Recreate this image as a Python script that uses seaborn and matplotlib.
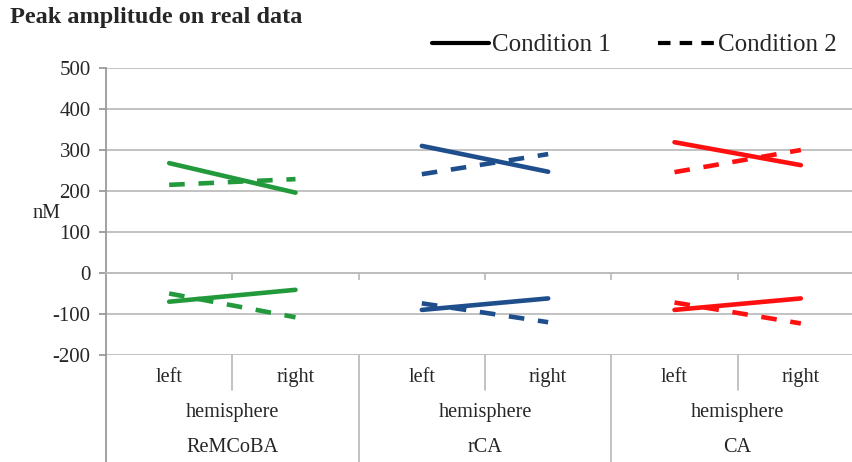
import matplotlib
matplotlib.use("Agg")
import matplotlib.pyplot as plt
import matplotlib.transforms as mtransforms
from matplotlib.lines import Line2D
import seaborn as sns
import pandas as pd

# ---- data ----
regions = ["ReMCoBA", "rCA", "CA"]
hemispheres = ["left", "right"]
conditions = ["Condition 1", "Condition 2"]
# upper (positive) peak, per region: [left, right]
pos_cond1 = {"ReMCoBA": [268, 196], "rCA": [310, 247], "CA": [319, 263]}
pos_cond2 = {"ReMCoBA": [215, 229], "rCA": [241, 290], "CA": [246, 300]}
# lower (negative) peak
neg_cond1 = {"ReMCoBA": [-70, -41], "rCA": [-90, -62], "CA": [-90, -62]}
neg_cond2 = {"ReMCoBA": [-50, -108], "rCA": [-74, -120], "CA": [-72, -123]}
y_ticks = [-200, -100, 0, 100, 200, 300, 400, 500]
colors = {"ReMCoBA": "#229A3C", "rCA": "#1F4E8C", "CA": "#FF1010"}

rows = []
for ri, reg in enumerate(regions):
    for comp, c1, c2 in [("pos", pos_cond1, pos_cond2), ("neg", neg_cond1, neg_cond2)]:
        for cond, src in [("Condition 1", c1), ("Condition 2", c2)]:
            for hi, hemi in enumerate(hemispheres):
                rows.append(dict(region=reg, hemisphere=hemi, condition=cond,
                                 unit=f"{reg}-{comp}-{cond}", x=ri * 2 + hi,
                                 value=src[reg][hi]))
df = pd.DataFrame(rows)

sns.set_theme(style="white")
plt.rcParams["font.family"] = ["Liberation Serif", "DejaVu Serif"]

fig = plt.figure(figsize=(8.53, 4.62), dpi=100)
ax = fig.add_axes([106 / 853, 1 - 355 / 462, 758 / 853, 287 / 462])

grid_c = "#BDBDBD"
for yv in y_ticks:
    ax.axhline(yv, color=grid_c, lw=1.3, zorder=0)

sns.lineplot(data=df, x="x", y="value", hue="region", style="condition",
             units="unit", estimator=None, palette=colors,
             dashes={"Condition 1": "", "Condition 2": (3.4, 3.0)},
             linewidth=3.3, legend=False, ax=ax, zorder=3)

ax.set_xlim(-0.5, 5.5)
ax.set_ylim(-200, 500)
ax.set_yticks(y_ticks)
ax.set_yticklabels([str(v) for v in y_ticks], fontsize=15)
ax.set_xlabel("")
ax.set_ylabel("")

for s in ["top", "right"]:
    ax.spines[s].set_visible(False)
ax.spines["left"].set_color("#9A9A9A")
ax.spines["left"].set_linewidth(1.3)
ax.spines["bottom"].set_position(("data", 0))
ax.spines["bottom"].set_color(grid_c)
ax.spines["bottom"].set_linewidth(1.3)
ax.set_xticks([0.5, 1.5, 2.5, 3.5, 4.5])
ax.set_xticklabels([])
ax.tick_params(axis="x", direction="out", length=5, width=1.3, color=grid_c, bottom=True)
ax.tick_params(axis="y", direction="out", length=5, width=1.3, color="#9A9A9A", left=True, pad=6)

# category table below the plot
trans = mtransforms.blended_transform_factory(ax.transData, ax.transAxes)
ax.plot([-0.5, -0.5], [0, -0.373], transform=trans, color="#9A9A9A", lw=1.3, clip_on=False)
for xs in [0.5, 2.5, 4.5]:
    ax.plot([xs, xs], [0, -0.122], transform=trans, color=grid_c, lw=1.3, clip_on=False)
for xs in [1.5, 3.5]:
    ax.plot([xs, xs], [0, -0.373], transform=trans, color=grid_c, lw=1.3, clip_on=False)
for ri, reg in enumerate(regions):
    for hi, hemi in enumerate(hemispheres):
        ax.text(ri * 2 + hi, -0.080, hemi, transform=trans, ha="center", va="center", fontsize=14.6)
    ax.text(ri * 2 + 0.5, -0.202, "hemisphere", transform=trans, ha="center", va="center", fontsize=14.6)
    ax.text(ri * 2 + 0.5, -0.321, reg, transform=trans, ha="center", va="center", fontsize=14.6)

fig.text(32 / 853, 1 - 213 / 462, "nM", ha="left", va="center", fontsize=14.6)
fig.text(10 / 853, 1 - 18 / 462, "Peak amplitude on real data", ha="left", va="center",
         fontsize=17.5, fontweight="bold")

handles = [Line2D([], [], color="black", lw=3, linestyle="-"),
           Line2D([], [], color="black", lw=3, linestyle=(0, (3.0, 2.2)))]
fig.legend(handles, conditions, loc="center left", bbox_to_anchor=(432 / 853, 1 - 45 / 462),
           ncol=2, frameon=False, fontsize=18, handlelength=2.3, handletextpad=0.1,
           columnspacing=1.9, borderpad=0, borderaxespad=0)

fig.savefig("out.png", dpi=100)
